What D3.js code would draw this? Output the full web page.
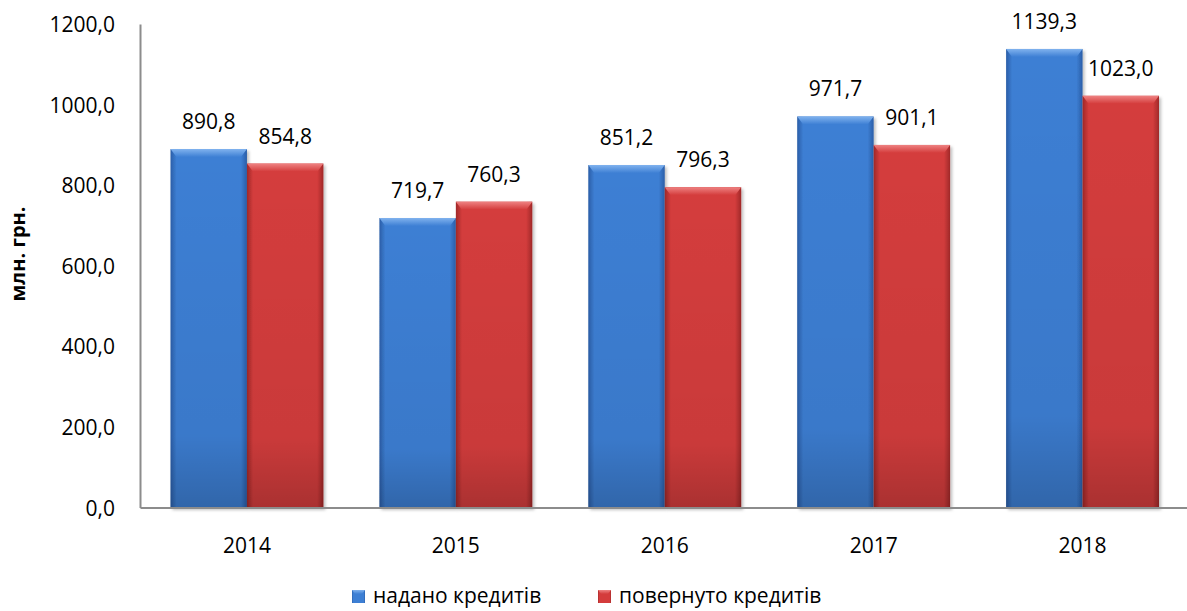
<!DOCTYPE html>
<html>
<head>
<meta charset="utf-8">
<script src="https://cdn.jsdelivr.net/npm/d3@7"></script>
<style>
  body { margin: 0; background: #fff; }
  svg text { font-family: "Open Sans", "DejaVu Sans", sans-serif; fill: #000; }
</style>
</head>
<body>
<svg id="chart" width="1187" height="611"></svg>
<script>
// chart data
const years = ['2014', '2015', '2016', '2017', '2018'];
const issued = [890.8, 719.7, 851.2, 971.7, 1139.3];     // надано кредитів
const repaid = [854.8, 760.3, 796.3, 901.1, 1023.0];     // повернуто кредитів
const seriesNames = ['надано кредитів', 'повернуто кредитів'];
const yTicks = [0, 200, 400, 600, 800, 1000, 1200];

const svg = d3.select('#chart');
const plotLeft = 142.5, plotRight = 1187, plotTop = 24.5, plotBottom = 508;

const x = d3.scaleBand().domain(years).range([plotLeft, plotRight]).paddingInner(0.268).paddingOuter(0.134);
const xs = d3.scaleBand().domain([0, 1]).range([0, x.bandwidth()]);
const y = d3.scaleLinear().domain([0, 1200]).range([plotBottom, plotTop]);

const fmt = v => d3.format('.1f')(v).replace('.', ',');

// colour sets: edge, mid, light (bevel top)
const palettes = [
  { edge: '#2a5ea8', mid: '#3d7fd4', light: '#80b2ee', id: 'blue' },
  { edge: '#a02828', mid: '#d43c3c', light: '#ee8282', id: 'red' }
];

const defs = svg.append('defs');
palettes.forEach(p => {
  const g = defs.append('linearGradient').attr('id', 'h-' + p.id)
    .attr('x1', '0%').attr('x2', '100%').attr('y1', '0%').attr('y2', '0%');
  g.append('stop').attr('offset', '0%').attr('stop-color', p.edge);
  g.append('stop').attr('offset', '8%').attr('stop-color', p.mid);
  g.append('stop').attr('offset', '92%').attr('stop-color', p.mid);
  g.append('stop').attr('offset', '100%').attr('stop-color', p.edge);
  const v = defs.append('linearGradient').attr('id', 'v-' + p.id)
    .attr('x1', '0%').attr('x2', '0%').attr('y1', '0%').attr('y2', '100%');
  v.append('stop').attr('offset', '0%').attr('stop-color', '#000').attr('stop-opacity', 0);
  v.append('stop').attr('offset', '80%').attr('stop-color', '#000').attr('stop-opacity', 0.05);
  v.append('stop').attr('offset', '100%').attr('stop-color', '#000').attr('stop-opacity', 0.2);
  const t = defs.append('linearGradient').attr('id', 't-' + p.id)
    .attr('x1', '0%').attr('x2', '0%').attr('y1', '0%').attr('y2', '100%');
  t.append('stop').attr('offset', '0%').attr('stop-color', p.light);
  t.append('stop').attr('offset', '100%').attr('stop-color', p.mid);
});

const shadow = defs.append('filter').attr('id', 'shadow').attr('x', '-10%').attr('y', '-10%').attr('width', '130%').attr('height', '130%');
shadow.append('feDropShadow').attr('dx', 2).attr('dy', 2).attr('stdDeviation', 1.5).attr('flood-opacity', 0.25);

// bars
const rows = years.map((yr, i) => [issued[i], repaid[i]].map((v, s) => ({ yr, v, s })));
const groups = svg.append('g').selectAll('g').data(rows).enter().append('g')
  .attr('transform', d => `translate(${x(d[0].yr)},0)`);

const bar = groups.selectAll('g.bar').data(d => d).enter().append('g').attr('class', 'bar');
bar.append('rect')
  .attr('x', d => xs(d.s)).attr('y', d => y(d.v))
  .attr('width', xs.bandwidth()).attr('height', d => y(0) - y(d.v))
  .attr('fill', d => `url(#h-${palettes[d.s].id})`)
  .attr('filter', 'url(#shadow)');
bar.append('rect')
  .attr('x', d => xs(d.s)).attr('y', d => y(d.v))
  .attr('width', xs.bandwidth()).attr('height', d => y(0) - y(d.v))
  .attr('fill', d => `url(#v-${palettes[d.s].id})`);
bar.append('path')
  .attr('d', d => {
    const x0 = xs(d.s), x1 = x0 + xs.bandwidth(), y0 = y(d.v), b = 6;
    return `M${x0},${y0} L${x1},${y0} L${x1 - b},${y0 + 8} L${x0 + b},${y0 + 8} Z`;
  })
  .attr('fill', d => `url(#t-${palettes[d.s].id})`);

// value labels
bar.append('text')
  .attr('x', d => xs(d.s) + xs.bandwidth() / 2)
  .attr('y', d => y(d.v) - 20)
  .attr('text-anchor', 'middle')
  .style('font-size', '21px')
  .text(d => fmt(d.v));

// axes lines
svg.append('line').attr('x1', plotLeft - 2).attr('x2', plotLeft - 2).attr('y1', plotTop).attr('y2', plotBottom)
  .attr('stroke', '#8c8c8c').attr('stroke-width', 2);
svg.append('line').attr('x1', plotLeft - 2).attr('x2', plotRight).attr('y1', plotBottom).attr('y2', plotBottom)
  .attr('stroke', '#8c8c8c').attr('stroke-width', 2);

// y tick labels
svg.append('g').selectAll('text').data(yTicks).enter().append('text')
  .attr('x', 115).attr('y', d => y(d)).attr('dy', '0.36em')
  .attr('text-anchor', 'end').style('font-size', '21px')
  .text(d => fmt(d));

// x tick labels
svg.append('g').selectAll('text').data(years).enter().append('text')
  .attr('x', d => x(d) + x.bandwidth() / 2).attr('y', 553)
  .attr('text-anchor', 'middle').style('font-size', '21px')
  .text(d => d);

// y axis title
svg.append('text')
  .attr('transform', 'translate(25,254) rotate(-90)')
  .attr('text-anchor', 'middle')
  .style('font-size', '20px').style('font-weight', 'bold')
  .text('млн. грн.');

// legend
const legendX = [352, 598];
const leg = svg.append('g').selectAll('g').data(seriesNames).enter().append('g')
  .attr('transform', (d, i) => `translate(${legendX[i]},590)`);
leg.append('rect').attr('width', 13).attr('height', 13)
  .attr('fill', (d, i) => `url(#h-${palettes[i].id})`);
leg.append('path').attr('d', 'M0,0 L13,0 L10,4 L3,4 Z')
  .attr('fill', (d, i) => `url(#t-${palettes[i].id})`);
leg.append('text').attr('x', 21).attr('y', 13).style('font-size', '21px').text(d => d);
</script>
</body>
</html>
